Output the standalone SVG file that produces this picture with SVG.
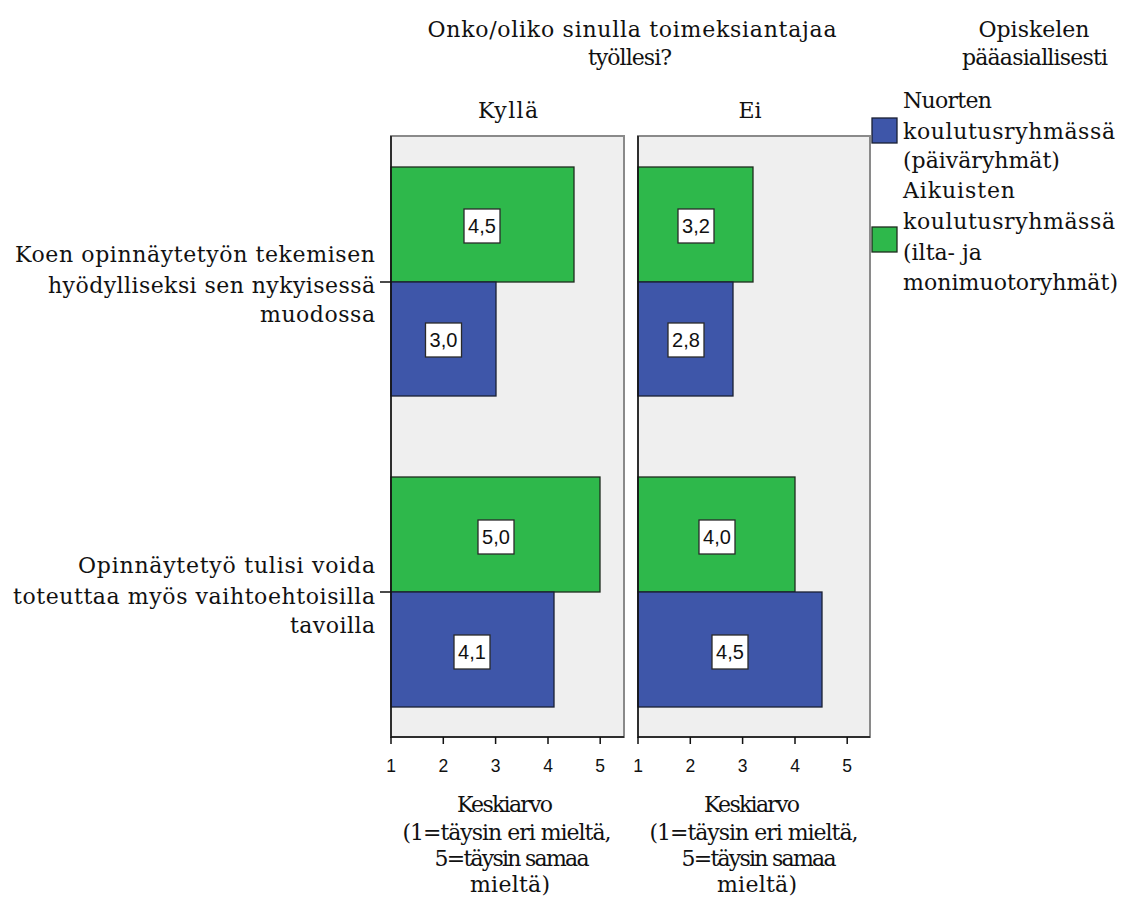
<svg xmlns="http://www.w3.org/2000/svg" width="1133" height="897" viewBox="0 0 1133 897">
<style>
.t{font-family:"DejaVu Serif","Liberation Serif",serif;font-size:22px;fill:#111}
.m{text-anchor:middle}
.e{text-anchor:end}
.v{font-family:"Liberation Sans",Arial,sans-serif;font-size:20px;fill:#111;text-anchor:middle}
.tk{font-family:"Liberation Sans",Arial,sans-serif;font-size:17.5px;fill:#111;text-anchor:middle}
.g{fill:#2eb84b;stroke:#1e2b1e;stroke-width:1.3}
.b{fill:#3e56a9;stroke:#1a1f33;stroke-width:1.3}
.box{fill:#fff;stroke:#2a2a2a;stroke-width:1.3}
.panel{fill:#efefef;stroke:#8a8a8a;stroke-width:2}
.ax{stroke:#111;stroke-width:1.5;fill:none}
</style>
<rect width="1133" height="897" fill="#fff"/>
<g id="title">
<text class="t m" x="632" y="37" textLength="409">Onko/oliko sinulla toimeksiantajaa</text>
<text class="t m" x="630" y="65" textLength="84">työllesi?</text>
</g>
<g id="panel-kylla">
<rect class="panel" x="391" y="136" width="233" height="601"/>
<text class="t m" x="508" y="118" textLength="60">Kyllä</text>
</g>
<g id="panel-ei">
<rect class="panel" x="638" y="136" width="232" height="601"/>
<text class="t m" x="750" y="118">Ei</text>
</g>
<g id="bars-kylla">
<rect class="g" x="391" y="167" width="183" height="115"/>
<rect class="b" x="391" y="282" width="105" height="114"/>
<rect class="g" x="391" y="477" width="209" height="115"/>
<rect class="b" x="391" y="592" width="163" height="115"/>
</g>
<g id="bars-ei">
<rect class="g" x="638" y="167" width="115" height="115"/>
<rect class="b" x="638" y="282" width="95" height="114"/>
<rect class="g" x="638" y="477" width="157" height="115"/>
<rect class="b" x="638" y="592" width="184" height="115"/>
</g>
<g id="value-labels">
<rect class="box" x="464" y="209" width="36" height="34"/><text class="v" x="482" y="233">4,5</text>
<rect class="box" x="425.5" y="323" width="36" height="34"/><text class="v" x="443.5" y="347">3,0</text>
<rect class="box" x="478" y="520" width="36" height="34"/><text class="v" x="496" y="544">5,0</text>
<rect class="box" x="454" y="635" width="36" height="34"/><text class="v" x="472" y="659">4,1</text>
<rect class="box" x="678" y="209" width="36" height="34"/><text class="v" x="696" y="233">3,2</text>
<rect class="box" x="668" y="323" width="36" height="34"/><text class="v" x="686" y="347">2,8</text>
<rect class="box" x="699" y="520" width="36" height="34"/><text class="v" x="717" y="544">4,0</text>
<rect class="box" x="712" y="635" width="36" height="34"/><text class="v" x="730" y="659">4,5</text>
</g>
<g id="connectors">
<path class="ax" d="M391 136V737H624M638 136V737H870"/>
<path class="ax" d="M380 282H391M380 592H391"/>
<path class="ax" d="M391 737V744M443.3 737V744M495.6 737V744M548 737V744M600.2 737V744M638 737V744M690.3 737V744M742.6 737V744M795 737V744M847.2 737V744"/>
</g>
<g id="tick-labels">
<text class="tk" x="391" y="772">1</text><text class="tk" x="443.3" y="772">2</text><text class="tk" x="495.6" y="772">3</text><text class="tk" x="548" y="772">4</text><text class="tk" x="600.2" y="772">5</text>
<text class="tk" x="638" y="772">1</text><text class="tk" x="690.3" y="772">2</text><text class="tk" x="742.6" y="772">3</text><text class="tk" x="795" y="772">4</text><text class="tk" x="847.2" y="772">5</text>
</g>
<g id="category-1">
<text class="t e" x="375" y="262" textLength="360">Koen opinnäytetyön tekemisen</text>
<text class="t e" x="375" y="293" textLength="327">hyödylliseksi sen nykyisessä</text>
<text class="t e" x="375" y="322" textLength="115">muodossa</text>
</g>
<g id="category-2">
<text class="t e" x="375" y="573" textLength="297">Opinnäytetyö tulisi voida</text>
<text class="t e" x="375" y="604" textLength="362">toteuttaa myös vaihtoehtoisilla</text>
<text class="t e" x="375" y="633" textLength="85">tavoilla</text>
</g>
<g id="axis-title-kylla">
<text class="t m" x="505" y="812" textLength="96">Keskiarvo</text>
<text class="t m" x="507" y="840" textLength="209">(1=täysin eri mieltä,</text>
<text class="t m" x="512" y="866" textLength="155">5=täysin samaa</text>
<text class="t m" x="510" y="892" textLength="80">mieltä)</text>
</g>
<g id="axis-title-ei">
<text class="t m" x="752" y="812" textLength="96">Keskiarvo</text>
<text class="t m" x="754" y="840" textLength="209">(1=täysin eri mieltä,</text>
<text class="t m" x="759" y="866" textLength="155">5=täysin samaa</text>
<text class="t m" x="757" y="892" textLength="80">mieltä)</text>
</g>
<g id="legend">
<text class="t m" x="1034" y="37">Opiskelen</text>
<text class="t m" x="1035" y="65" textLength="146">pääasiallisesti</text>
<g id="legend-nuorten">
<rect class="b" x="872" y="118" width="25" height="25"/>
<text class="t" x="903" y="108" textLength="89">Nuorten</text>
<text class="t" x="903" y="139" textLength="212">koulutusryhmässä</text>
<text class="t" x="903" y="168">(päiväryhmät)</text>
</g>
<g id="legend-aikuisten">
<rect class="g" x="872" y="227" width="25" height="25"/>
<text class="t" x="903" y="198" textLength="112">Aikuisten</text>
<text class="t" x="903" y="229" textLength="212">koulutusryhmässä</text>
<text class="t" x="903" y="260">(ilta- ja</text>
<text class="t" x="903" y="290" textLength="215">monimuotoryhmät)</text>
</g>
</g>
</svg>
